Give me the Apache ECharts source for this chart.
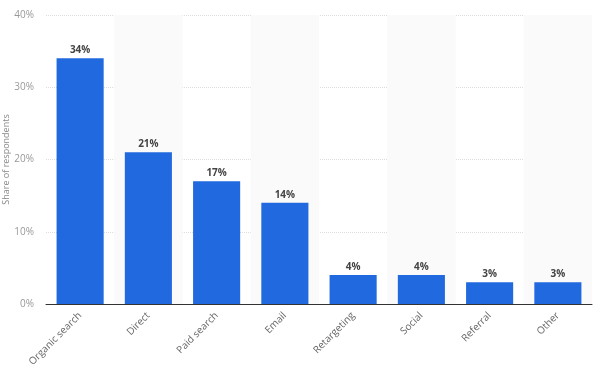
<!DOCTYPE html>
<html><head><meta charset="utf-8">
<script src="https://cdn.jsdelivr.net/npm/echarts@6/dist/echarts.min.js"></script>
<style>html,body{margin:0;padding:0;background:#fff}#c{width:602px;height:372px}</style>
</head><body><div id="c"></div>
<script>
const categories = ["Organic search","Direct","Paid search","Email","Retargeting","Social","Referral","Other"];
const values = [34,21,17,14,4,4,3,3];
const yTicks = [0,10,20,30,40];

const chart = echarts.init(document.getElementById('c'));
chart.setOption({
  animation:false,
  grid:{left:46,right:10,top:15,bottom:68,containLabel:false,outerBoundsMode:'none'},
  xAxis:{
    type:'category', data:categories,
    axisLine:{lineStyle:{color:'#333',width:1}},
    axisTick:{show:false},
    axisLabel:{rotate:45, color:'#666', fontSize:10, fontFamily:'Open Sans', interval:0, margin:10},
    splitArea:{show:true, areaStyle:{color:['rgba(255,255,255,0)','#fafafa']}}
  },
  yAxis:{
    type:'value', min:yTicks[0], max:yTicks[yTicks.length-1], interval:10,
    name:'Share of respondents', nameLocation:'middle', nameGap:35, nameMoveOverlap:false,
    nameTextStyle:{color:'#888', fontSize:9, fontFamily:'Open Sans'},
    axisLabel:{formatter:'{value}%', color:'#999', fontSize:10, fontFamily:'Open Sans', margin:12},
    axisLine:{show:false}, axisTick:{show:false},
    splitLine:{lineStyle:{color:'#ddd', type:'dotted'}}
  },
  series:[{
    type:'bar', data:values, barCategoryGap:'31%',
    itemStyle:{color:'#2069de'},
    label:{show:true, position:'top', formatter:'{c}%', color:'#444', fontWeight:'bold', fontSize:10, fontFamily:'Open Sans', distance:3}
  }]
});
</script></body></html>
